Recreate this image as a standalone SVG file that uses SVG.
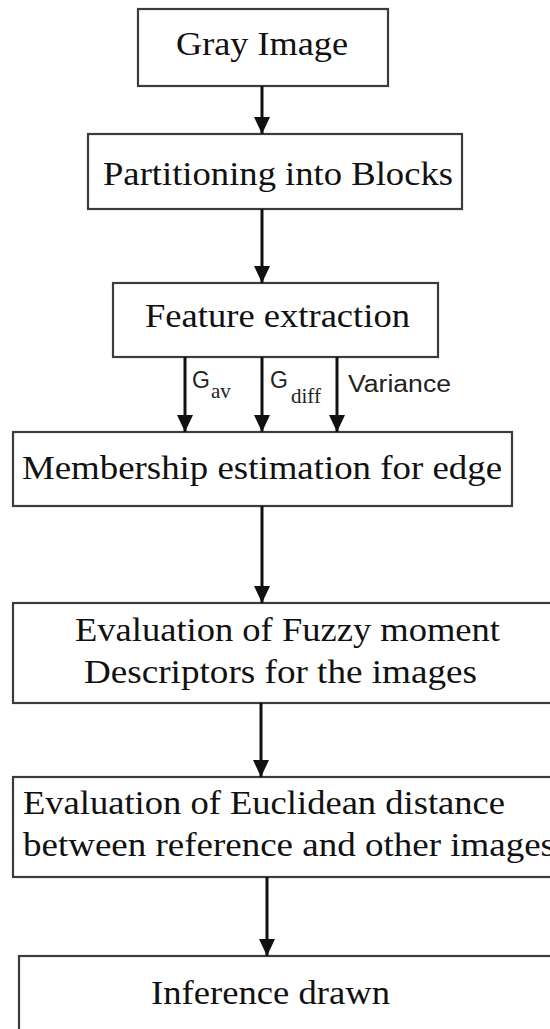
<svg xmlns="http://www.w3.org/2000/svg" width="550" height="1029" viewBox="0 0 550 1029">
  <style>
    .box { fill: #ffffff; stroke: #3c3c3c; stroke-width: 2.2; }
    .lbl { font-family: 'Liberation Serif', 'DejaVu Serif', 'Times New Roman', Times, serif; font-size: 34px; fill: #111111; }
    .feat { font-family: 'Liberation Sans', Arial, sans-serif; font-size: 23px; fill: #222222; }
    .sub { font-family: 'Liberation Serif', 'DejaVu Serif', Times, serif; font-size: 21px; fill: #222222; }
    .link { stroke: #111111; stroke-width: 3; fill: none; marker-end: url(#head); }
  </style>
  <defs>
    <marker id="head" markerUnits="userSpaceOnUse" markerWidth="18" markerHeight="18" viewBox="0 0 18 18" refX="17" refY="9" orient="auto">
      <path d="M0,1 L17,9 L0,17 Z" fill="#111111"/>
    </marker>
  </defs>
  <rect width="550" height="1029" fill="#ffffff"/>

  <g id="gray-image">
    <rect class="box" x="138" y="9" width="250" height="77"/>
    <text class="lbl" x="176" y="55" textLength="172" lengthAdjust="spacingAndGlyphs">Gray Image</text>
  </g>

  <g id="partitioning">
    <rect class="box" x="88" y="134" width="374" height="75"/>
    <text class="lbl" x="103" y="185" textLength="350" lengthAdjust="spacingAndGlyphs">Partitioning  into Blocks</text>
  </g>

  <g id="feature-extraction">
    <rect class="box" x="113" y="283" width="325" height="74"/>
    <text class="lbl" x="145" y="327" textLength="265" lengthAdjust="spacingAndGlyphs">Feature extraction</text>
  </g>

  <g id="membership">
    <rect class="box" x="13" y="432" width="499" height="74"/>
    <text class="lbl" x="22" y="479" textLength="480" lengthAdjust="spacingAndGlyphs">Membership estimation for edge</text>
  </g>

  <g id="fuzzy-moments">
    <rect class="box" x="13" y="603" width="560" height="100"/>
    <text class="lbl" x="75" y="641" textLength="425" lengthAdjust="spacingAndGlyphs">Evaluation of Fuzzy moment</text>
    <text class="lbl" x="84" y="683" textLength="393" lengthAdjust="spacingAndGlyphs">Descriptors for the images</text>
  </g>

  <g id="euclidean-distance">
    <rect class="box" x="13" y="777" width="560" height="100"/>
    <text class="lbl" x="23" y="814" textLength="482" lengthAdjust="spacingAndGlyphs">Evaluation of Euclidean distance</text>
    <text class="lbl" x="23" y="856" textLength="532" lengthAdjust="spacingAndGlyphs">between reference and other images</text>
  </g>

  <g id="inference">
    <rect class="box" x="19" y="956" width="560" height="100"/>
    <text class="lbl" x="151" y="1004" textLength="239" lengthAdjust="spacingAndGlyphs">Inference drawn</text>
  </g>

  <g id="connectors">
    <line class="link" x1="262" y1="86" x2="262" y2="134"/>
    <line class="link" x1="262" y1="209" x2="262" y2="283"/>
    <line class="link" x1="185" y1="357" x2="185" y2="432"/>
    <line class="link" x1="262" y1="357" x2="262" y2="432"/>
    <line class="link" x1="337" y1="357" x2="337" y2="432"/>
    <line class="link" x1="262" y1="506" x2="262" y2="603"/>
    <line class="link" x1="261" y1="703" x2="261" y2="777"/>
    <line class="link" x1="267" y1="877" x2="267" y2="956"/>
    <g id="feature-labels">
      <text class="feat" x="192" y="388">G</text>
      <text class="sub" x="211" y="398">av</text>
      <text class="feat" x="270" y="388">G</text>
      <text class="sub" x="291" y="403">diff</text>
      <text class="feat" x="348" y="392" textLength="103" lengthAdjust="spacingAndGlyphs">Variance</text>
    </g>
  </g>
</svg>
